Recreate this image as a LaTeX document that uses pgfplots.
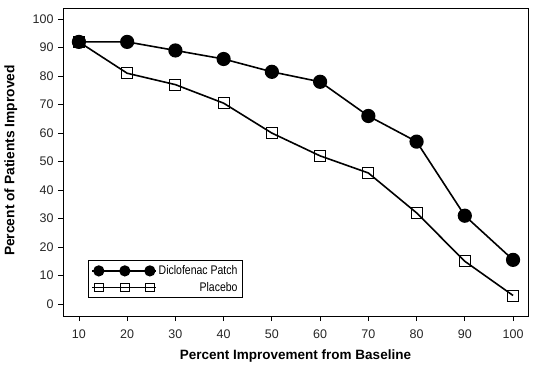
\documentclass[border=0pt]{standalone}
\usepackage{pgfplots}
\pgfplotsset{compat=1.18}
\usetikzlibrary{calc}
\usepackage{fontspec}
\setmainfont{Liberation Sans}
\newfontfamily\narrowfont[FakeStretch=0.84]{Liberation Sans}
\begin{document}
\begin{tikzpicture}
\begin{axis}[
  name=ax,
  scale only axis,
  width=465pt, height=308pt,
  xmin=6.7, xmax=103.1,
  ymin=-4.2, ymax=103.9,
  xtick={10,20,...,100},
  ytick={0,10,...,100},
  tick align=outside,
  tick pos=left,
  major tick length=5pt,
  tick style={black, line width=0.8pt},
  axis line style={line width=0.9pt},
  /pgf/number format/assume math mode=true,
  ticklabel style={font=\fontsize{12.5}{13}\selectfont, text=black!85},
  yticklabel style={xshift=-1pt},
  xticklabel style={yshift=-5pt},
  xlabel={\textbf{Percent Improvement from Baseline}},
  ylabel={\textbf{Percent of Patients Improved}},
  xlabel style={font=\fontsize{13.5}{15}\selectfont, at={(axis description cs:0.5,-0.13)}, anchor=center},
  ylabel style={font=\fontsize{13.8}{15}\selectfont, at={(axis description cs:-0.112,0.505)}, anchor=center},
  legend style={at={(0.054,0.058)}, anchor=south west, draw=black, line width=0.8pt,
    font=\narrowfont\fontsize{12.5}{13}\selectfont, cells={anchor=east}, row sep=2pt,
    inner xsep=3pt, inner ysep=3pt},
  legend image code/.code={\draw[#1,mark=none] (0cm,0cm) -- (2.25cm,0cm);
    \draw[#1] plot coordinates {(0.236cm,0cm) (1.15cm,0cm) (2.03cm,0cm)};},
]
\addplot[black, line width=1.6pt, mark=*, mark size=6.3pt, mark options={solid, fill=black},
  legend image post style={mark size=5pt, line width=1.2pt}]
 coordinates {(10,92) (20,92) (30,89) (40,86) (50,81.5) (60,78) (70,66) (80,57) (90,31) (100,15.5)};
\addlegendentry{Diclofenac Patch}
\addplot[black, line width=1.6pt, mark=square, mark size=5.5pt, mark options={solid, line width=0.8pt},
  legend image post style={mark size=4.3pt, line width=1pt}]
 coordinates {(10,92) (20,81) (30,77) (40,70.5) (50,60) (60,52) (70,46) (80,32) (90,15) (100,3)};
\addlegendentry{Placebo}
\end{axis}
\pgfresetboundingbox
\path ($(ax.south west)+(-63pt,-55pt)$) rectangle ($(ax.north east)+(5pt,8pt)$);
\end{tikzpicture}
\end{document}
